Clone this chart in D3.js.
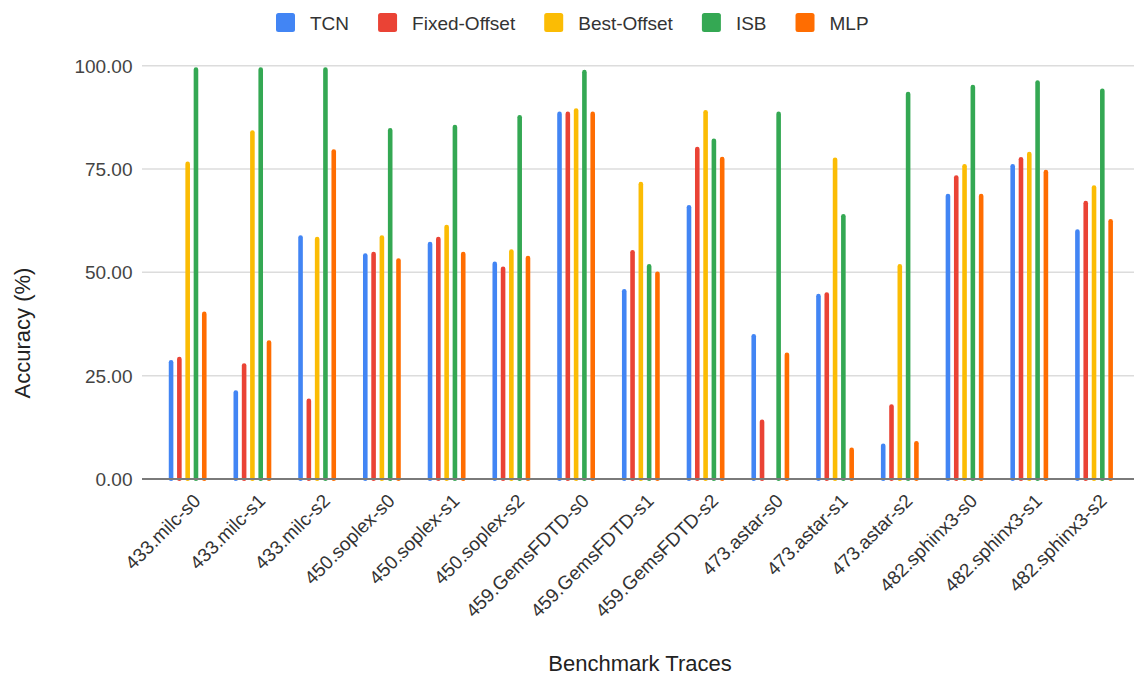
<!DOCTYPE html>
<html>
<head>
<meta charset="utf-8">
<script src="https://cdn.jsdelivr.net/npm/d3@7"></script>
<style>
  html, body { margin: 0; padding: 0; background: #fff; }
  svg { display: block; font-family: "Liberation Sans", Arial, sans-serif; }
</style>
</head>
<body>
<svg id="chart" width="1134" height="679"></svg>
<script>
// Benchmark traces on the x axis
const categories = [
  "433.milc-s0", "433.milc-s1", "433.milc-s2",
  "450.soplex-s0", "450.soplex-s1", "450.soplex-s2",
  "459.GemsFDTD-s0", "459.GemsFDTD-s1", "459.GemsFDTD-s2",
  "473.astar-s0", "473.astar-s1", "473.astar-s2",
  "482.sphinx3-s0", "482.sphinx3-s1", "482.sphinx3-s2"
];

// Prefetcher names (legend order)
const seriesNames = ["TCN", "Fixed-Offset", "Best-Offset", "ISB", "MLP"];

// Accuracy (%) per prefetcher, one entry per trace
const tcn         = [28.8, 21.5, 59.0, 54.6, 57.4, 52.6, 88.9, 46.0, 66.3, 35.1, 44.8,  8.6, 69.0, 76.2, 60.4];
const fixedOffset = [29.6, 28.0, 19.5, 55.0, 58.6, 51.4, 88.9, 55.4, 80.4, 14.4, 45.2, 18.1, 73.5, 77.9, 67.3];
const bestOffset  = [76.8, 84.4, 58.6, 59.0, 61.5, 55.6, 89.7, 71.9, 89.3, null, 77.8, 52.0, 76.2, 79.2, 71.1];
const isb         = [99.6, 99.6, 99.6, 84.9, 85.7, 88.1, 99.0, 52.0, 82.4, 88.9, 64.1, 93.7, 95.4, 96.5, 94.5];
const mlp         = [40.5, 33.6, 79.8, 53.4, 55.0, 54.0, 88.9, 50.2, 78.0, 30.6,  7.6,  9.2, 69.0, 74.8, 62.9];

// Y axis tick values
const yTicks = [0, 25, 50, 75, 100];

const seriesValues = [tcn, fixedOffset, bestOffset, isb, mlp];
const colors = ["#4285F4", "#EA4335", "#FBBC04", "#34A853", "#FF6D01"];

const svg = d3.select("#chart");

const gridLeft = 142, gridRight = 1134;
const y = d3.scaleLinear().domain([0, 100]).range([479, 65.7]);
const x = d3.scaleBand().domain(categories).range([155.3, 1126.4]).paddingInner(0).paddingOuter(0);
const barStep = 8.3;
const barW = 4.6;
const inner = d3.scaleBand().domain(seriesNames)
  .range([x.bandwidth() / 2 - 2.5 * barStep, x.bandwidth() / 2 + 2.5 * barStep]);

// Gridlines
svg.append("g").selectAll("line")
  .data(yTicks.filter(d => d !== 0))
  .join("line")
  .attr("x1", gridLeft).attr("x2", gridRight)
  .attr("y1", d => y(d)).attr("y2", d => y(d))
  .attr("stroke", "#dcdcdc").attr("stroke-width", 1.5);

// Y tick labels
svg.append("g").selectAll("text")
  .data(yTicks)
  .join("text")
  .attr("x", 132.5)
  .attr("y", d => y(d))
  .attr("dy", "0.36em")
  .attr("text-anchor", "end")
  .attr("font-size", 19)
  .attr("fill", "#444")
  .text(d => d3.format(".2f")(d));

// Bars
const groups = svg.append("g").selectAll("g")
  .data(categories)
  .join("g")
  .attr("transform", d => `translate(${x(d)},0)`);

groups.selectAll("rect")
  .data((d, i) => seriesNames.map((s, k) => ({ s, k, v: seriesValues[k][i] })).filter(e => e.v != null))
  .join("rect")
  .attr("x", e => inner(e.s) + inner.bandwidth() / 2 - barW / 2)
  .attr("y", e => y(e.v))
  .attr("width", barW)
  .attr("height", e => y(0) - y(e.v) + 2)
  .attr("rx", barW / 2)
  .attr("fill", e => colors[e.k]);

// Baseline
svg.append("line")
  .attr("x1", gridLeft).attr("x2", gridRight)
  .attr("y1", y(0)).attr("y2", y(0))
  .attr("stroke", "#7a7a7a").attr("stroke-width", 2);

// Slanted category labels
svg.append("g").selectAll("text")
  .data(categories)
  .join("text")
  .attr("transform", d => `translate(${x(d) + x.bandwidth() / 2 + 14},${502}) rotate(-45)`)
  .attr("text-anchor", "end")
  .attr("font-size", 19)
  .attr("fill", "#333")
  .text(d => d);

// Axis titles
svg.append("text")
  .attr("transform", "translate(30,333) rotate(-90)")
  .attr("text-anchor", "middle")
  .attr("font-size", 22)
  .attr("fill", "#222")
  .text("Accuracy (%)");

svg.append("text")
  .attr("x", 640).attr("y", 671)
  .attr("text-anchor", "middle")
  .attr("font-size", 22)
  .attr("fill", "#222")
  .text("Benchmark Traces");

// Legend
const legend = svg.append("g");
let lx = 276;
seriesNames.forEach((name, k) => {
  legend.append("rect")
    .attr("x", lx).attr("y", 13)
    .attr("width", 19).attr("height", 19)
    .attr("rx", 2.5)
    .attr("fill", colors[k]);
  const t = legend.append("text")
    .attr("x", lx + 34).attr("y", 30)
    .attr("font-size", 19)
    .attr("fill", "#333")
    .text(name);
  lx += 34 + t.node().getComputedTextLength() + 29;
});
</script>
</body>
</html>
